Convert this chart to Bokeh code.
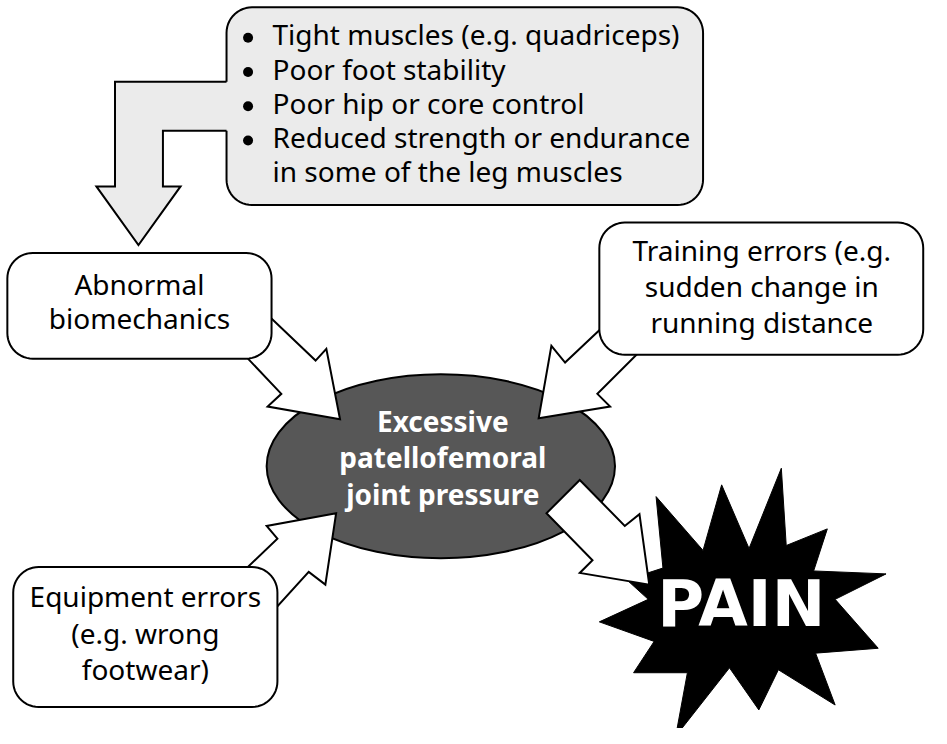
import numpy as np
from bokeh.plotting import figure
from bokeh.models import Range1d
from bokeh.core.properties import value
from bokeh.embed import file_html
from bokeh.resources import INLINE

# ---- diagram content ----
bullet_lines = ["Tight muscles (e.g. quadriceps)", "Poor foot stability",
                "Poor hip or core control", "Reduced strength or endurance",
                "in some of the leg muscles"]
bullet_flags = [True, True, True, True, False]
bullet_base = [47, 82, 117, 152, 187]

abn_lines = ["Abnormal", "biomechanics"]
abn_base = [302, 337]
trn_lines = ["Training errors (e.g.", "sudden change in", "running distance"]
trn_base = [267, 304, 341]
eqp_lines = ["Equipment errors", "(e.g. wrong", "footwear)"]
eqp_base = [621, 659, 695]
ell_lines = ["Excessive", "patellofemoral", "joint pressure"]
ell_base = [442, 479, 517]
pain_label = "PAIN"
pain_base = 640

# boxes: x0, y0, x1, y1 (reference pixels), fill
box_x0 = [231, 7, 612, 13]
box_y0 = [7, 258, 227, 579]
box_x1 = [718, 277, 943, 283]
box_y1 = [209, 366, 362, 722]
box_fill = ["#ebebeb", "white", "white", "white"]
box_r = 26

# ellipse
ell_cx, ell_cy, ell_w, ell_h = 450, 476, 356, 188

# white block arrows
arrow_xs = [
    [257, 322, 333, 347, 273, 287, 232],
    [632, 577, 563, 550, 623, 610, 672],
    [233, 283, 272, 343, 332, 315, 265],
    [592, 638, 653, 663, 592, 605, 558],
]
arrow_ys = [
    [306, 368, 356, 428, 415, 402, 344],
    [318, 370, 353, 427, 415, 402, 340],
    [598, 550, 537, 524, 597, 584, 639],
    [490, 537, 525, 597, 585, 572, 524],
]

# grey bent arrow from the top box
bent_x = [233, 117, 117, 98, 141, 184, 166, 166, 233]
bent_y = [83, 83, 190, 190, 250, 190, 190, 133, 133]

# starburst
star_x = [670, 718, 737, 765, 798, 803, 845, 831, 905, 853, 897, 833, 853, 795,
          775, 745, 690, 702, 647, 668, 612, 662, 640, 677]
star_y = [507, 562, 495, 560, 478, 557, 540, 583, 586, 612, 662, 667, 720, 684,
          725, 682, 752, 687, 687, 655, 635, 612, 592, 580]


def rounded(x0, y0, x1, y1, r, n=14):
    xs, ys = [], []
    corners = [(x1 - r, y0 + r, -np.pi / 2, 0), (x1 - r, y1 - r, 0, np.pi / 2),
               (x0 + r, y1 - r, np.pi / 2, np.pi), (x0 + r, y0 + r, np.pi, 1.5 * np.pi)]
    for cx, cy, a0, a1 in corners:
        t = np.linspace(a0, a1, n)
        xs.extend(cx + r * np.cos(t))
        ys.extend(cy + r * np.sin(t))
    return xs, ys


W, H = 931, 728
S = H / 744.0  # pixels per reference pixel
p = figure(width=W, height=H, output_backend="svg", toolbar_location=None,
           x_range=Range1d(0, W / S), y_range=Range1d(744, 0),
           min_border=0, outline_line_color=None)
p.axis.visible = False
p.grid.visible = False
p.background_fill_color = "white"

FONT = value("Noto Sans")
SZ = "28px"
TSHIFT = 12 / S      # renderer places alphabetic baseline this far below y
PSHIFT = 23 / S


def sh(vals, d):
    return [v - d for v in vals]


# ellipse
p.ellipse(x=[ell_cx], y=[ell_cy], width=[ell_w], height=[ell_h],
          fill_color="#575757", line_color="black", line_width=2)

# starburst
p.patch(star_x, star_y, fill_color="black", line_color="black", line_width=1)

# white arrows
p.patches(arrow_xs, arrow_ys, fill_color="white", line_color="black",
          line_width=2, line_join="miter")

# boxes
bxs, bys = [], []
for i in range(len(box_x0)):
    bx, by = rounded(box_x0[i], box_y0[i], box_x1[i], box_y1[i], box_r)
    bxs.append(bx)
    bys.append(by)
p.patches(bxs, bys, fill_color=box_fill, line_color="black", line_width=2)

# grey bent arrow (merged with top box)
p.patch(bent_x, bent_y, fill_color="#ebebeb", line_color=None)
p.line([231] + bent_x[1:-1] + [231], [bent_y[0]] + bent_y[1:-1] + [bent_y[-1]],
       line_color="black", line_width=2, line_join="miter")

# bullets
bx_list = [253 for f in bullet_flags if f]
by_list = [b - 9 for b, f in zip(bullet_base, bullet_flags) if f]
p.scatter(bx_list, by_list, marker="circle", size=10, fill_color="black", line_color=None)
p.text([278] * len(bullet_lines), sh(bullet_base, TSHIFT), text=bullet_lines, text_font=FONT,
       text_font_size=SZ, text_align="left", text_baseline="alphabetic", text_color="black")

p.text([142] * len(abn_lines), sh(abn_base, TSHIFT), text=abn_lines, text_font=FONT,
       text_font_size=SZ, text_align="center", text_baseline="alphabetic", text_color="black")
p.text([778] * len(trn_lines), sh(trn_base, TSHIFT), text=trn_lines, text_font=FONT,
       text_font_size=SZ, text_align="center", text_baseline="alphabetic", text_color="black")
p.text([148] * len(eqp_lines), sh(eqp_base, TSHIFT), text=eqp_lines, text_font=FONT,
       text_font_size=SZ, text_align="center", text_baseline="alphabetic", text_color="black")
p.text([452] * len(ell_lines), sh(ell_base, TSHIFT), text=ell_lines, text_font=FONT,
       text_font_size=SZ, text_font_style="bold", text_align="center",
       text_baseline="alphabetic", text_color="white")
p.text([757], [pain_base - PSHIFT], text=[pain_label], text_font=value("DejaVu Sans"),
       text_font_size="64px", text_font_style="bold", text_align="center",
       text_baseline="alphabetic", text_color="white")

open("out.html", "w").write(file_html(p, INLINE))
